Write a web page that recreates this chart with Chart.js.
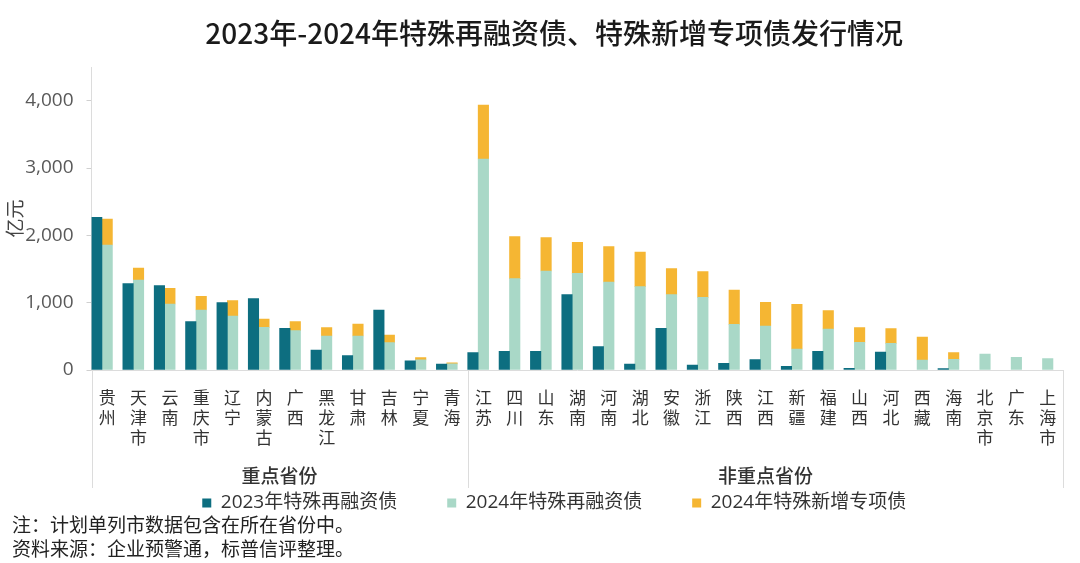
<!DOCTYPE html>
<html lang="zh-CN">
<head>
<meta charset="utf-8">
<title>2023年-2024年特殊再融资债、特殊新增专项债发行情况</title>
<script src="https://cdn.jsdelivr.net/npm/chart.js@4.4.1/dist/chart.umd.min.js"></script>
<style>
    body { margin: 0; background: #fff; }
    #wrap { position: relative; width: 1080px; height: 563px; }
    .note { position: absolute; left: 12px; font: 19px 'Noto Sans CJK SC', sans-serif; color: #222; line-height: 24px; white-space: nowrap; }
</style>
</head>
<body>
<div id="wrap">
    <canvas id="chart"></canvas>
    <div class="note" style="top:512px">注：计划单列市数据包含在所在省份中。</div>
    <div class="note" style="top:536px">资料来源：企业预警通，标普信评整理。</div>
</div>
<script>
// ---------------- DATA ----------------
const provinces = ['贵州', '天津市', '云南', '重庆市', '辽宁', '内蒙古', '广西', '黑龙江', '甘肃', '吉林', '宁夏', '青海',
    '江苏', '四川', '山东', '湖南', '河南', '湖北', '安徽', '浙江', '陕西', '江西', '新疆', '福建', '山西', '河北',
    '西藏', '海南', '北京市', '广东', '上海市'];
const keyProvinceCount = 12; // first 12 = 重点省份
const groupNames = ['重点省份', '非重点省份'];

// 亿元
const refi2023 = [2267, 1282, 1252, 718, 1000, 1059, 619, 297, 213, 891, 138, 89,
    257, 277, 277, 1119, 347, 89, 619, 74, 99, 153, 54, 277, 25, 267, null, 20, null, null, null];
const refi2024 = [1856, 1337, 980, 891, 802, 634, 584, 505, 505, 406, 150, 90,
    3133, 1356, 1470, 1436, 1307, 1238, 1119, 1079, 678, 653, 312, 609, 411, 396, 149, 158, 238, 188, 168];
const newSpecial2024 = [386, 178, 233, 203, 228, 123, 134, 124, 178, 114, 35, 18,
    802, 624, 495, 460, 525, 514, 386, 381, 510, 352, 663, 272, 218, 218, 341, 99, null, null, null];

const yMax = 4500;
const yTicks = [0, 1000, 2000, 3000, 4000];

// ---------------- PLUGIN: group frame + group names ----------------
const groupFrame = {
    id: 'groupFrame',
    afterLayout(chart) {
        // widen the label clip areas: y labels/title to the left edge, x labels down to the frame
        chart.scales.y.left = 0;
        chart.scales.x.bottom = 490;
    },
    afterDraw(chart) {
        const { ctx, chartArea, scales: { x } } = chart;
        const half = (x.getPixelForValue(1) - x.getPixelForValue(0)) / 2;
        const split = x.getPixelForValue(keyProvinceCount - 1) + half;
        const bottom = 488;

        ctx.save();
        ctx.strokeStyle = '#dcdcdc';
        ctx.lineWidth = 1;
        [x.left, split, x.right].forEach(px => {
            const xx = Math.round(px) + 0.5;
            ctx.beginPath();
            ctx.moveTo(xx, chartArea.bottom);
            ctx.lineTo(xx, bottom);
            ctx.stroke();
        });

        ctx.fillStyle = '#333';
        ctx.font = "500 19px 'Noto Sans CJK SC'";
        ctx.textAlign = 'center';
        ctx.textBaseline = 'middle';
        ctx.fillText(groupNames[0], (x.left + split) / 2, 476);
        ctx.fillText(groupNames[1], (split + x.right) / 2, 476);
        ctx.restore();
    }
};

// ---------------- CHART ----------------
Chart.defaults.font.family = "'Noto Sans CJK SC', sans-serif";

new Chart(document.getElementById('chart'), {
    type: 'bar',
    data: {
        labels: provinces.map(p => p.split('')),
        datasets: [
            { label: '2023年特殊再融资债', data: refi2023, stack: 'a', backgroundColor: '#0d6e80' },
            { label: '2024年特殊再融资债', data: refi2024, stack: 'b', backgroundColor: '#a9d8c7' },
            { label: '2024年特殊新增专项债', data: newSpecial2024, stack: 'b', backgroundColor: '#f5b633' },
            // empty third slot so each pair sits left in its category
            { label: '', data: provinces.map(() => null), stack: 'c', backgroundColor: 'rgba(0,0,0,0)' }
        ]
    },
    options: {
        responsive: true,
        maintainAspectRatio: false,
        animation: false,
        categoryPercentage: 1,
        barPercentage: 1,
        borderWidth: 0,
        layout: { padding: { left: 45, right: 16.6, top: 0, bottom: 40.5 } },
        plugins: {
            title: {
                display: true,
                text: '2023年-2024年特殊再融资债、特殊新增专项债发行情况',
                color: '#1a1a1a',
                font: { size: 28, weight: '500' },
                padding: { top: 16.7, bottom: 16.7 }
            },
            legend: {
                position: 'bottom',
                labels: {
                    boxWidth: 9,
                    boxHeight: 9,
                    padding: 50,
                    color: '#333',
                    font: { family: "'Open Sans', 'Noto Sans CJK SC', sans-serif", size: 19 },
                    filter: item => item.text !== ''
                }
            },
            tooltip: { enabled: false }
        },
        scales: {
            x: {
                stacked: true,
                grid: { display: false, drawTicks: false },
                border: { display: true, color: '#dcdcdc' },
                ticks: {
                    autoSkip: false,
                    maxRotation: 0,
                    minRotation: 0,
                    padding: 17,
                    color: '#333',
                    font: { size: 17, lineHeight: 1.2 }
                },
                afterFit: s => { s.height = 73.5; }
            },
            y: {
                stacked: true,
                min: 0,
                max: yMax,
                grid: { drawOnChartArea: false, drawTicks: true, tickLength: 5, color: '#d0d0d0' },
                border: { display: true, color: '#dcdcdc' },
                ticks: {
                    padding: 13,
                    color: '#595959',
                    font: { family: "'Open Sans', sans-serif", size: 19 },
                    callback: v => v.toLocaleString('en-US')
                },
                afterBuildTicks: s => { s.ticks = yTicks.map(v => ({ value: v })); },
                title: {
                    display: true,
                    text: '亿元',
                    color: '#444',
                    font: { size: 19 },
                    padding: { top: 3.6, bottom: 0 }
                },
                afterFit: s => { s.width = 46.5; }
            }
        }
    },
    plugins: [groupFrame]
});
</script>
</body>
</html>
